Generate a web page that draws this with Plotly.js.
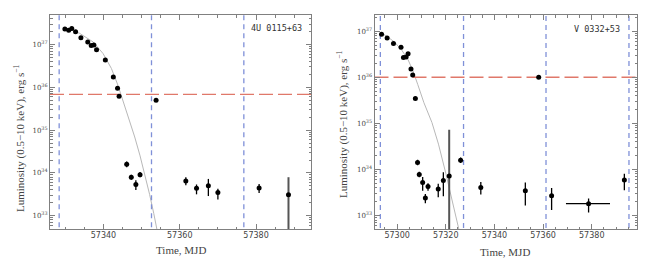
<!DOCTYPE html>
<html><head><meta charset="utf-8">
<script src="https://cdn.plot.ly/plotly-3.0.1.min.js"></script>
<style>html,body{margin:0;padding:0;background:#fff}#c{width:654px;height:274px}</style>
</head><body><div id="c"></div>
<script>
// ---- Left panel: 4U 0115+63 ----
const L_mjd  = [57329.9,57330.9,57331.7,57332.7,57334.1,57335.9,57336.8,57337.5,57338.2,57340.5,57342.6,57343.7,57344.1,57346.1,57347.3,57348.5,57349.6,57353.8,57361.6,57364.4,57367.5,57370.0,57380.8];
const L_logL = [37.365,37.335,37.375,37.30,37.16,37.06,36.98,36.99,36.88,36.64,36.24,35.98,35.79,34.20,33.90,33.73,33.96,35.70,33.81,33.64,33.70,33.54,33.65];
const L_errUp= [0,0,0,0,0,0,0,0,0,0,0,0,0,0.07,0.06,0.10,0.06,0,0.09,0.09,0.16,0.09,0.09];
const L_errDn= [0,0,0,0,0,0,0,0,0,0,0,0,0,0.07,0.06,0.13,0.06,0,0.10,0.14,0.24,0.16,0.12];
const L_wide_mjd=[57388.5], L_wide_logL=[33.49], L_wide_up=[0.41], L_wide_dn=[1.5];
const L_model_mjd =[57329.5,57332.0,57333.8,57335.5,57337.3,57339.9,57342.1,57343.8,57345.1,57346.9,57348.2,57349.6,57350.9,57352.1,57353.2,57354.2];
const L_model_logL=[37.40,37.33,37.26,37.17,37.06,36.79,36.44,36.05,35.70,35.23,34.84,34.40,33.95,33.50,33.05,32.60];
const L_vlines=[57328.4,57352.6,57376.8];
const L_thresh=35.836;
const L_label="4U 0115+63";

// ---- Right panel: V 0332+53 ----
const R_mjd  = [57293.6,57295.9,57298.5,57301.6,57302.6,57303.7,57304.5,57305.7,57306.4,57307.5,57308.4,57309.1,57310.5,57311.6,57312.7,57316.9,57319.0,57326.1,57334.4,57352.7,57358.2,57363.5,57378.7,57393.4];
const R_logL = [36.93,36.85,36.73,36.65,36.43,36.44,36.51,36.18,36.05,35.54,34.15,33.89,33.72,33.38,33.63,33.58,33.76,34.20,33.61,33.54,36.00,33.43,33.26,33.77];
const R_errUp= [0,0,0,0,0,0,0,0,0,0,0.06,0.06,0.12,0.09,0.07,0.11,0.18,0.06,0.12,0.18,0,0.17,0.11,0.14];
const R_errDn= [0,0,0,0,0,0,0,0,0,0,0.06,0.06,0.18,0.11,0.09,0.18,0.34,0.06,0.15,0.32,0,0.31,0.19,0.22];
const R_xErrP= [0,0,0,0,0,0,0,0,0,0,0,0,0,0,0,0,0,0,0,0,0,0,8.8,0];
const R_xErrM= [0,0,0,0,0,0,0,0,0,0,0,0,0,0,0,0,0,0,0,0,0,0,9.3,0];
const R_wide_mjd=[57321.4], R_wide_logL=[33.86], R_wide_up=[1.0], R_wide_dn=[1.5];
const R_model_mjd =[57293.5,57296.0,57299.0,57302.0,57304.5,57306.5,57308.5,57311.0,57314.3,57317.0,57320.0,57322.5,57325.2,57326.5];
const R_model_logL=[36.96,36.88,36.76,36.58,36.38,36.14,35.84,35.45,35.02,34.55,33.92,33.38,32.77,32.45];
const R_vlines=[57293.1,57327.3,57361.2,57395.3];
const R_thresh=36.0;
const R_label="V 0332+53";

const yTickVals=[1e33,1e34,1e35,1e36,1e37];
const yTickText=["10<sup>33</sup>","10<sup>34</sup>","10<sup>35</sup>","10<sup>36</sup>","10<sup>37</sup>"];

const pw=v=>Math.pow(10,v);
function errs(logL,up,dn){
  return {
    plus: logL.map((l,i)=>pw(l+up[i])-pw(l)),
    minus: logL.map((l,i)=>pw(l)-pw(l-dn[i]))
  };
}

function panel(xa,ya,mjd,logL,up,dn,xp,xm,wm,wl,wu,wd,mm,ml,vl,th,xr){
  const tr=[];
  tr.push({x:mm,y:ml.map(pw),xaxis:xa,yaxis:ya,mode:'lines',line:{color:'#b8b8b8',width:1},hoverinfo:'skip'});
  vl.forEach(v=>tr.push({x:[v,v],y:[1e30,1e40],xaxis:xa,yaxis:ya,mode:'lines',line:{color:'#7f90d8',width:1.3,dash:'5px,4px'},hoverinfo:'skip'}));
  tr.push({x:xr,y:[pw(th),pw(th)],xaxis:xa,yaxis:ya,mode:'lines',line:{color:'#e0786a',width:1.3,dash:'14px,5px'},hoverinfo:'skip'});
  const ew=errs(wl,wu,wd);
  tr.push({x:wm,y:wl.map(pw),xaxis:xa,yaxis:ya,mode:'markers',marker:{color:'#000',size:5},
    error_y:{type:'data',symmetric:false,array:ew.plus,arrayminus:ew.minus,color:'#555',thickness:2,width:0}});
  const e=errs(logL,up,dn);
  const t={x:mjd,y:logL.map(pw),xaxis:xa,yaxis:ya,mode:'markers',marker:{color:'#000',size:5},
    error_y:{type:'data',symmetric:false,array:e.plus,arrayminus:e.minus,color:'#000',thickness:1.3,width:0}};
  if(xp) t.error_x={type:'data',symmetric:false,array:xp,arrayminus:xm,color:'#000',thickness:1.3,width:0};
  tr.push(t);
  return tr;
}

const Lxr=[57326,57394.4], Rxr=[57290.7,57398.6];
const data=[].concat(
  panel('x','y',L_mjd,L_logL,L_errUp,L_errDn,null,null,L_wide_mjd,L_wide_logL,L_wide_up,L_wide_dn,L_model_mjd,L_model_logL,L_vlines,L_thresh,Lxr),
  panel('x2','y2',R_mjd,R_logL,R_errUp,R_errDn,R_xErrP,R_xErrM,R_wide_mjd,R_wide_logL,R_wide_up,R_wide_dn,R_model_mjd,R_model_logL,R_vlines,R_thresh,Rxr)
);

const tickFont={family:'DejaVu Sans, sans-serif',size:8,color:'#444'};
function xax(dom,range,anchor){
  return {domain:dom,range:range,anchor:anchor,showgrid:false,zeroline:false,showline:true,mirror:'allticks',
    linecolor:'#808080',linewidth:1,ticks:'inside',ticklen:5,tickcolor:'#808080',tick0:57300,dtick:20,tickformat:'d',
    ticklabelstandoff:-2,tickfont:tickFont,minor:{ticks:'inside',ticklen:2.5,dtick:5,tickcolor:'#808080'}};
}
function yax(dom,range,anchor){
  return {domain:dom,range:range,anchor:anchor,type:'log',showgrid:false,zeroline:false,showline:true,mirror:'allticks',
    linecolor:'#808080',linewidth:1,ticks:'inside',ticklen:5,tickcolor:'#808080',tickmode:'array',tickvals:yTickVals,ticktext:yTickText,
    tickfont:{family:'DejaVu Serif, serif',size:7,color:'#444'},minor:{ticks:'inside',ticklen:2.5,dtick:'D1',tickcolor:'#808080'}};
}
const yd=[1-229/274,1-15/274];
const serif={family:'Liberation Serif, serif',size:11,color:'#444'};
const A=(x,y,text,font,extra)=>Object.assign({xref:'paper',yref:'paper',x:x/654,y:1-y/274,text:text,showarrow:false,xanchor:'center',yanchor:'middle',font:font},extra||{});
const mono={family:'DejaVu Sans Mono, monospace',size:8.5,color:'#333'};
const layout={width:654,height:274,margin:{l:0,r:0,t:0,b:0},showlegend:false,paper_bgcolor:'#fff',plot_bgcolor:'#fff',
  xaxis:xax([50/654,311/654],Lxr,'y'),
  yaxis:yax(yd,[32.69,37.69],'x'),
  xaxis2:xax([374.5/654,637/654],Rxr,'y2'),
  yaxis2:yax(yd,[32.71,37.35],'x2'),
  annotations:[
    A(180.5,250,'Time, MJD',serif),
    A(505,252,'Time, MJD',serif),
    A(19,138,'Luminosity (0.5\u221210 keV), erg s<sup>\u22121</sup>',serif,{textangle:-90}),
    A(342,124,'Luminosity (0.5\u221210 keV), erg s<sup>\u22121</sup>',serif,{textangle:-90}),
    A(276,28,L_label,mono),
    A(597,29,R_label,mono)
  ]
};
Plotly.newPlot('c',data,layout,{staticPlot:true,displayModeBar:false});
</script></body></html>
